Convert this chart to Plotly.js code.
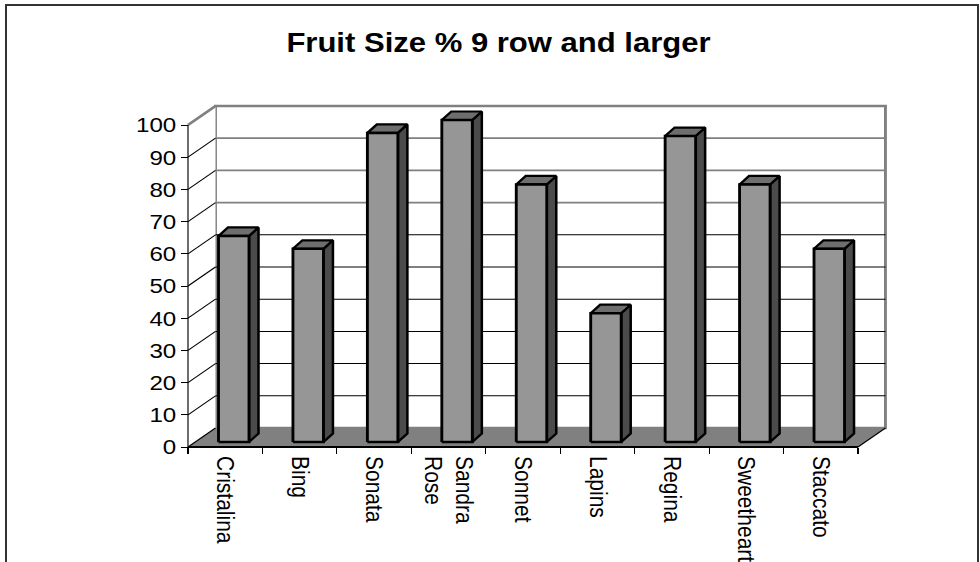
<!DOCTYPE html>
<html><head><meta charset="utf-8">
<script src="https://cdn.plot.ly/plotly-3.0.1.min.js"></script>
<style>
html,body{margin:0;padding:0;background:#fff;overflow:hidden;width:980px;height:562px;}
#wrap{position:absolute;left:0;top:0;width:852px;height:562px;transform:scaleX(1.150235);transform-origin:0 0;}
#frame{position:absolute;left:5px;top:4px;width:970px;height:600px;border:2px solid #333;pointer-events:none;}
</style></head><body>
<div id="wrap"><div id="chart" style="width:852px;height:562px;"></div></div>
<div id="frame"></div>
<script>
// ---- data ----
const categories = ['Cristalina','Bing','Sonata','Sandra<br>Rose','Sonnet','Lapins','Regina','Sweetheart','Staccato'];
const values = [64, 60, 96, 100, 80, 40, 95, 80, 60];
const yTicks = [0, 10, 20, 30, 40, 50, 60, 70, 80, 90, 100];
const chartTitle = 'Fruit Size % 9 row and larger';

// ---- geometry (pixels of the final picture) ----
const W = 852, H = 562, S = 980 / W;
const AX = 188, AY = 447, PXC = 74.44, PYU = 3.22;
const PL = 130, PR = 782, PT = 95, PB = 470;
const xr = [(PL * S - AX) / PXC, (PR * S - AX) / PXC];
const yr = [(AY - PB) / PYU, (AY - PT) / PYU];
const DX = 27.5 / PXC, DY = 19 / PYU;          // wall depth
const BL = 30.5 / PXC, BR = 61 / PXC, B0 = 5 / PYU;  // bar front face
const BDX = 9.5 / PXC, BDY = 8.5 / PYU;        // bar depth
const N = categories.length, YM = yTicks[yTicks.length - 1];

const traces = [];
function poly(pts, fill, lc, lw) {
  const xs = [], ys = [];
  pts.forEach(p => { if (p === null) { xs.push(null); ys.push(null); } else { xs.push(p[0]); ys.push(p[1]); } });
  traces.push({type: 'scatter', mode: 'lines', x: xs, y: ys, fill: fill ? 'toself' : 'none',
    fillcolor: fill || undefined, line: {color: lc || 'rgba(0,0,0,0)', width: lw || 0}, hoverinfo: 'skip'});
}
// back wall
poly([[DX, DY], [N + DX, DY], [N + DX, YM + DY], [DX, YM + DY], [DX, DY]], '#ffffff', '#808080', 2.5);
// left wall
poly([[0, 0], [DX, DY], [DX, YM + DY], [0, YM], [0, 0]], '#ffffff', null, 0);
// gridlines
const gGray = [], gBlack = [], gDiag = [];
yTicks.forEach(t => {
  if (t === 0 || t === YM) return;
  (t >= 70 ? gGray : gBlack).push([DX, t + DY], [N + DX, t + DY], null);
  gDiag.push([0, t], [DX, t + DY], null);
});
poly(gBlack, null, '#000000', 1);
poly(gGray, null, '#808080', 1.8);
poly(gDiag, null, '#000000', 1);
poly([[0, YM], [DX, YM + DY]], null, '#808080', 2.5);
// floor
poly([[0, 0], [N, 0], [N + DX, DY], [DX, DY], [0, 0]], '#808080', null, 0);
poly([[0, 0], [DX, DY], null, [N, 0], [N + DX, DY]], null, '#000000', 1);
poly([[0, 0], [N, 0]], null, '#000000', 2);
poly([[0, 0], [0, YM]], null, '#000000', 1);
// bars
const sideFaces = [], topFaces = [], frontFaces = [];
values.forEach((v, i) => {
  const l = i + BL, r = i + BR, b = B0, t = v + B0;
  sideFaces.push([r, b], [r + BDX, b + BDY], [r + BDX, t + BDY], [r, t], [r, b], null);
  topFaces.push([l, t], [r, t], [r + BDX, t + BDY], [l + BDX, t + BDY], [l, t], null);
  frontFaces.push([l, b], [r, b], [r, t], [l, t], [l, b], null);
});
poly(sideFaces, '#4b4b4b', '#000000', 2.2);
poly(topFaces, '#6e6e6e', '#000000', 2.2);
poly(frontFaces, '#969696', '#000000', 2.5);

const font = 'Arial, "Liberation Sans", sans-serif';
const layout = {
  width: W, height: H, margin: {l: PL, r: W - PR, t: PT, b: H - PB},
  paper_bgcolor: 'rgba(0,0,0,0)', plot_bgcolor: 'rgba(0,0,0,0)',
  showlegend: false, hovermode: false,
  title: {text: '<b>' + chartTitle + '</b>', font: {family: font, size: 27, color: '#000'},
    xref: 'container', x: (498.5 / S) / W, xanchor: 'center', yref: 'container', y: 1 - 43 / H, yanchor: 'middle'},
  xaxis: {range: xr, anchor: 'free', position: (PB - AY) / (PB - PT), showgrid: false, zeroline: false, showline: false,
    tickmode: 'array', tickvals: categories.map((c, i) => i + 0.5), ticktext: categories, ticks: '', tickangle: 90,
    ticklabelstandoff: 8,
    tickfont: {family: font, size: 21, color: '#000'},
    minor: {tickmode: 'array', tickvals: categories.map((c, i) => i).concat([N]), ticks: 'outside', ticklen: 6, tickwidth: 1, tickcolor: '#000', showgrid: false}},
  yaxis: {range: yr, anchor: 'free', position: (AX / S - PL) / (PR - PL), showgrid: false, zeroline: false, showline: false,
    tickmode: 'array', tickvals: yTicks, ticks: 'outside', ticklen: 6, tickwidth: 1, tickcolor: '#000',
    tickfont: {family: font, size: 21, color: '#000'}}
};
Plotly.newPlot('chart', traces, layout, {staticPlot: true, displayModeBar: false});
</script>
</body></html>
